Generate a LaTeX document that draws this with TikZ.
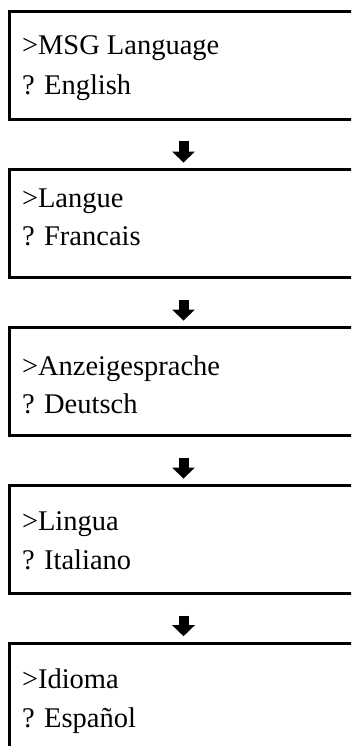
\documentclass[tikz,border=0pt]{standalone}
\usepackage{fontspec}
\setmainfont{Liberation Serif}
\usetikzlibrary{arrows.meta,calc}
\tikzset{
  panel/.style={draw, line width=2.7pt, minimum width=348.3pt, minimum height=108pt,
    inner sep=0pt, outer sep=0pt, anchor=north west},
  lcdtext/.style={anchor=base west, inner sep=0pt, outer sep=0pt,
    font=\fontsize{28.5}{34}\selectfont},
  flowarrow/.style={line width=10pt, -{Triangle[width=22pt,length=11pt]},
    shorten <=22pt, shorten >=7pt}
}
\begin{document}
\begin{tikzpicture}[x=1pt,y=-1pt]
\useasboundingbox (0,0) rectangle (351,746);
\clip (0,0) rectangle (351,746);
\node[panel] (b1) at (9.35,11.3) {};
\node[panel] (b2) at (9.35,169.6) {};
\node[panel] (b3) at (9.35,327.6) {};
\node[panel] (b4) at (9.35,485.6) {};
\node[panel] (b5) at (9.35,643.2) {};
\node[lcdtext] (t1a) at (22,55) {>MSG Language};
\node[lcdtext] (t1b) at (22,95) {? English};
\node[lcdtext] (t2a) at (22,207) {>Langue};
\node[lcdtext] (t2b) at (22,245) {? Francais};
\node[lcdtext] (t3a) at (22,375) {>Anzeigesprache};
\node[lcdtext] (t3b) at (22,413) {? Deutsch};
\node[lcdtext] (t4a) at (22,530) {>Lingua};
\node[lcdtext] (t4b) at (22,569) {? Italiano};
\node[lcdtext] (t5a) at (22,688) {>Idioma};
\node[lcdtext] (t5b) at (22,727) {? Español};
\draw[flowarrow] (b1.south) -- (b2.north);
\draw[flowarrow] (b2.south) -- (b3.north);
\draw[flowarrow] (b3.south) -- (b4.north);
\draw[flowarrow] (b4.south) -- (b5.north);
\end{tikzpicture}
\end{document}
